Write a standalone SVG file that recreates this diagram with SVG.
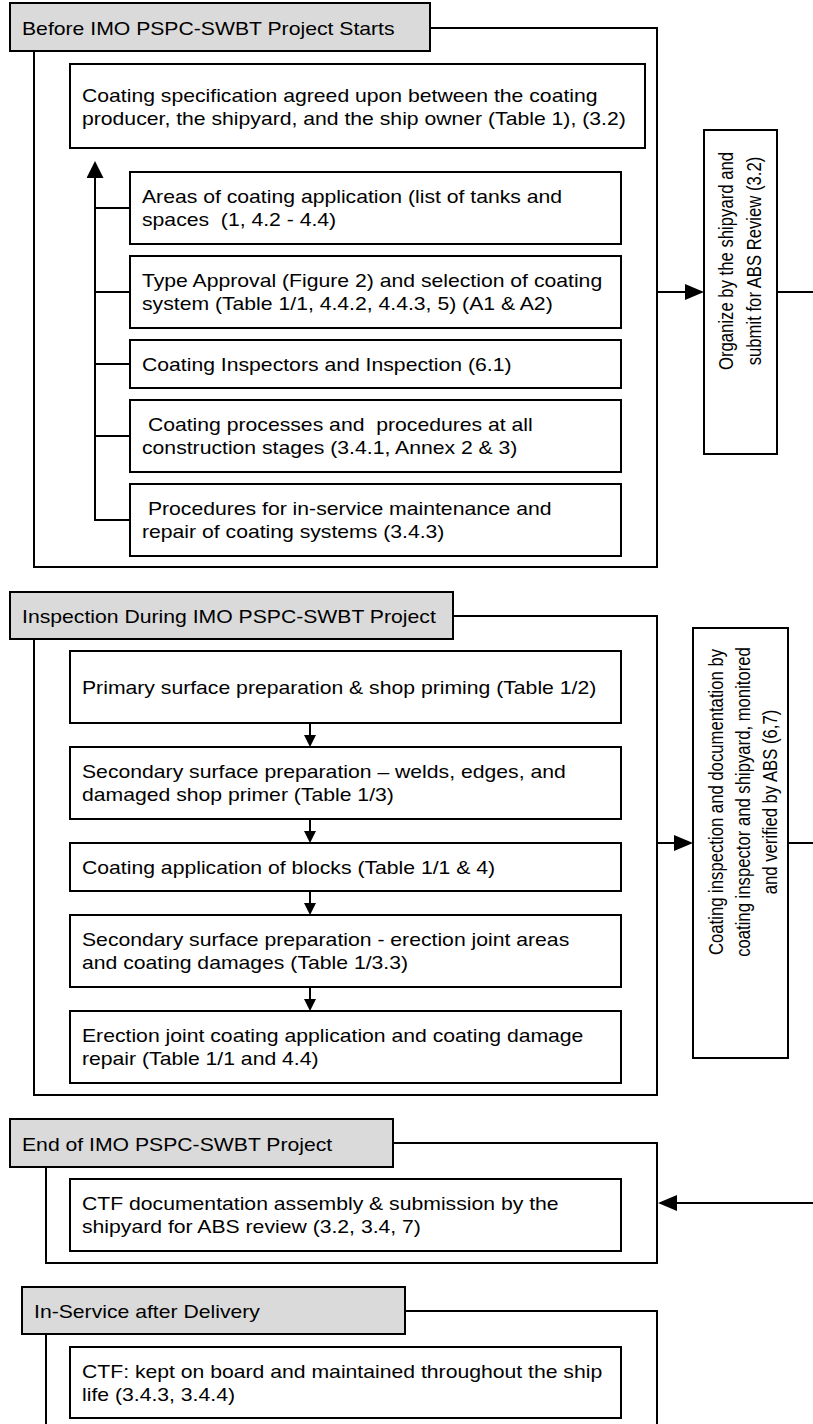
<svg xmlns="http://www.w3.org/2000/svg" width="813" height="1424" viewBox="0 0 813 1424">
<style>
.t{font-family:"Liberation Sans",Arial,sans-serif;font-size:19px;fill:#000;white-space:pre}
.r{font-size:16.7px;text-anchor:middle}
.box{fill:#fff;stroke:#000;stroke-width:2}
.tab{fill:#dadada;stroke:#000;stroke-width:2}
.frame{fill:none;stroke:#000;stroke-width:2}
.conn{fill:none;stroke:#000;stroke-width:2}
</style>
<defs>
<marker id="ahUp" markerUnits="userSpaceOnUse" markerWidth="17" markerHeight="17" refX="15" refY="8.5" orient="auto"><path d="M0,0 L17,8.5 L0,17 z" fill="#000"/></marker>
<marker id="ahBig" markerUnits="userSpaceOnUse" markerWidth="19" markerHeight="16" refX="17" refY="8" orient="auto"><path d="M0,0 L19,8 L0,16 z" fill="#000"/></marker>
<marker id="ahSmall" markerUnits="userSpaceOnUse" markerWidth="12" markerHeight="12" refX="10" refY="6" orient="auto"><path d="M0,0 L12,6 L0,12 z" fill="#000"/></marker>
</defs>

<g id="section1">
<path class="frame" d="M430,28 H657 V567 H34 V51"/>
<g id="hdr1"><rect class="tab" x="10" y="3" width="420" height="48"/><text class="t" xml:space="preserve" transform="translate(22,35) scale(1.115,1)">Before IMO PSPC-SWBT Project Starts</text></g>
<g id="n-spec"><rect class="box" x="70" y="64" width="575" height="84"/><text class="t" xml:space="preserve" transform="translate(82,101.5) scale(1.115,1)"><tspan x="0" y="0">Coating specification agreed upon between the coating</tspan><tspan x="0" y="23.5">producer, the shipyard, and the ship owner (Table 1), (3.2)</tspan></text></g>
<g id="n-areas"><rect class="box" x="130" y="172" width="491" height="72"/><text class="t" xml:space="preserve" transform="translate(142,203) scale(1.115,1)"><tspan x="0" y="0">Areas of coating application (list of tanks and</tspan><tspan x="0" y="23.5">spaces  (1, 4.2 - 4.4)</tspan></text></g>
<g id="n-type"><rect class="box" x="130" y="256" width="491" height="72"/><text class="t" xml:space="preserve" transform="translate(142,287) scale(1.115,1)"><tspan x="0" y="0">Type Approval (Figure 2) and selection of coating</tspan><tspan x="0" y="23.5">system (Table 1/1, 4.4.2, 4.4.3, 5) (A1 &amp; A2)</tspan></text></g>
<g id="n-insp"><rect class="box" x="130" y="340" width="491" height="48"/><text class="t" xml:space="preserve" transform="translate(142,370.5) scale(1.115,1)">Coating Inspectors and Inspection (6.1)</text></g>
<g id="n-proc"><rect class="box" x="130" y="400" width="491" height="72"/><text class="t" xml:space="preserve" transform="translate(142,431) scale(1.115,1)"><tspan x="0" y="0"> Coating processes and  procedures at all</tspan><tspan x="0" y="23.5">construction stages (3.4.1, Annex 2 &amp; 3)</tspan></text></g>
<g id="n-maint"><rect class="box" x="130" y="484" width="491" height="72"/><text class="t" xml:space="preserve" transform="translate(142,515) scale(1.115,1)"><tspan x="0" y="0"> Procedures for in-service maintenance and</tspan><tspan x="0" y="23.5">repair of coating systems (3.4.3)</tspan></text></g>
</g>
<g id="n-organize"><rect class="box" x="704" y="130" width="73" height="324"/><text class="t r" transform="translate(740,261) scale(1.22,1) rotate(-90)"><tspan x="0" y="-5.7">Organize by the shipyard and</tspan><tspan x="0" y="17.2">submit for ABS Review (3.2)</tspan></text></g>

<g id="section2">
<path class="frame" d="M453,616 H657 V1095 H34 V639"/>
<g id="hdr2"><rect class="tab" x="10" y="592" width="443" height="47"/><text class="t" xml:space="preserve" transform="translate(22,623) scale(1.115,1)">Inspection During IMO PSPC-SWBT Project</text></g>
<g id="n-primary"><rect class="box" x="70" y="651" width="551" height="72"/><text class="t" xml:space="preserve" transform="translate(82,693.5) scale(1.115,1)">Primary surface preparation &amp; shop priming (Table 1/2)</text></g>
<g id="n-secondary"><rect class="box" x="70" y="747" width="551" height="72"/><text class="t" xml:space="preserve" transform="translate(82,777.5) scale(1.115,1)"><tspan x="0" y="0">Secondary surface preparation – welds, edges, and</tspan><tspan x="0" y="23.5">damaged shop primer (Table 1/3)</tspan></text></g>
<g id="n-blocks"><rect class="box" x="70" y="843" width="551" height="48"/><text class="t" xml:space="preserve" transform="translate(82,873.5) scale(1.115,1)">Coating application of blocks (Table 1/1 &amp; 4)</text></g>
<g id="n-erection-prep"><rect class="box" x="70" y="915" width="551" height="72"/><text class="t" xml:space="preserve" transform="translate(82,945.5) scale(1.115,1)"><tspan x="0" y="0">Secondary surface preparation - erection joint areas</tspan><tspan x="0" y="23.5">and coating damages (Table 1/3.3)</tspan></text></g>
<g id="n-erection-coat"><rect class="box" x="70" y="1011" width="551" height="72"/><text class="t" xml:space="preserve" transform="translate(82,1041.5) scale(1.115,1)"><tspan x="0" y="0">Erection joint coating application and coating damage</tspan><tspan x="0" y="23.5">repair (Table 1/1 and 4.4)</tspan></text></g>
</g>
<g id="n-monitor"><rect class="box" x="693" y="628" width="95" height="430"/><text class="t r" transform="translate(740,802) scale(1.22,1) rotate(-90)"><tspan x="0" y="-13.9">Coating inspection and documentation by</tspan><tspan x="0" y="8.2">coating inspector and shipyard, monitored</tspan><tspan x="0" y="30.3">and verified by ABS (6,7)</tspan></text></g>

<g id="section3">
<path class="frame" d="M393,1143 H657 V1263 H46 V1167"/>
<g id="hdr3"><rect class="tab" x="10" y="1119" width="383" height="48"/><text class="t" xml:space="preserve" transform="translate(22,1150.5) scale(1.115,1)">End of IMO PSPC-SWBT Project</text></g>
<g id="n-ctf-doc"><rect class="box" x="70" y="1179" width="551" height="72"/><text class="t" xml:space="preserve" transform="translate(82,1210) scale(1.115,1)"><tspan x="0" y="0">CTF documentation assembly &amp; submission by the</tspan><tspan x="0" y="23.5">shipyard for ABS review (3.2, 3.4, 7)</tspan></text></g>
</g>

<g id="section4">
<path class="frame" d="M405,1311 H657 V1430 M46,1334 V1430"/>
<g id="hdr4"><rect class="tab" x="22" y="1287" width="383" height="47"/><text class="t" xml:space="preserve" transform="translate(34,1318) scale(1.115,1)">In-Service after Delivery</text></g>
<g id="n-ctf-board"><rect class="box" x="70" y="1347" width="551" height="71"/><text class="t" xml:space="preserve" transform="translate(82,1377.5) scale(1.115,1)"><tspan x="0" y="0">CTF: kept on board and maintained throughout the ship</tspan><tspan x="0" y="23.5">life (3.4.3, 3.4.4)</tspan></text></g>
</g>

<g id="connectors">
<path class="conn" d="M95,520 V163" marker-end="url(#ahUp)"/>
<path class="conn" d="M94,208 H130 M94,292 H130 M94,364 H130 M94,436 H130 M94,520 H130"/>
<path class="conn" d="M657,292 H702" marker-end="url(#ahBig)"/>
<path class="conn" d="M777,292 H813"/>
<path class="conn" d="M657,843 H691" marker-end="url(#ahBig)"/>
<path class="conn" d="M788,843 H813"/>
<path class="conn" d="M813,1203 H660" marker-end="url(#ahBig)"/>
<path class="conn" d="M310,723 V745" marker-end="url(#ahSmall)"/>
<path class="conn" d="M310,819 V841" marker-end="url(#ahSmall)"/>
<path class="conn" d="M310,891 V913" marker-end="url(#ahSmall)"/>
<path class="conn" d="M310,987 V1009" marker-end="url(#ahSmall)"/>
</g>
</svg>
